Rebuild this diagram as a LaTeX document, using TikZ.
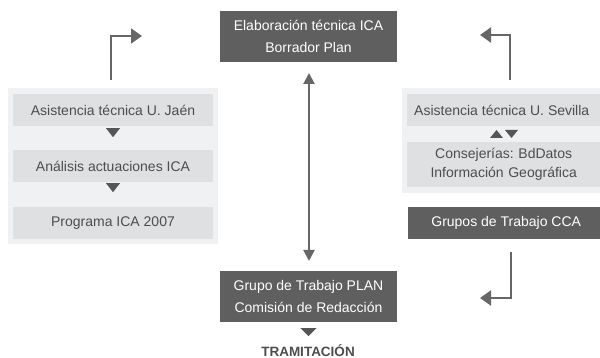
\documentclass[tikz,border=0pt]{standalone}
\usepackage{fontspec}
\setmainfont{Liberation Sans}
\usetikzlibrary{arrows.meta,calc}
\frenchspacing
\definecolor{darkbox}{HTML}{5F5F5F}
\definecolor{panel}{HTML}{F0F1F3}
\definecolor{inner}{HTML}{DFE0E2}
\definecolor{txt}{HTML}{4D4D4D}
\definecolor{arr}{HTML}{666666}
\definecolor{trifill}{HTML}{555555}
\tikzset{
  darkstep/.style={fill=darkbox, text=white, inner sep=0pt, align=center,
    font=\fontsize{14}{21.5}\selectfont},
  lightstep/.style={fill=inner, text=txt, inner sep=0pt, align=center,
    font=\fontsize{14}{19}\selectfont},
  panelbox/.style={fill=panel, inner sep=0pt},
  bent/.style={draw=arr, line width=2pt, -{Triangle[length=11pt,width=15pt]}},
  dbl/.style={draw=arr, line width=2pt, {Triangle[length=11pt,width=11pt]}-{Triangle[length=11pt,width=11pt]}},
  tri/.style={fill=trifill}
}
\begin{document}
\begin{tikzpicture}[x=1pt,y=-1pt]
\useasboundingbox (0,0) rectangle (600,358);
% panels
\node[panelbox, minimum width=210pt, minimum height=156pt, anchor=north west] (LP) at (8,88) {};
\node[panelbox, minimum width=198pt, minimum height=105pt, anchor=north west] (RP) at (402,88) {};
% top and bottom dark boxes
\node[darkstep, minimum width=177pt, minimum height=51pt] (T) at (308.5,36.5) {Elaboración técnica ICA\\Borrador Plan};
\node[darkstep, minimum width=177pt, minimum height=51pt] (B) at (308.5,296.5) {Grupo de Trabajo PLAN\\Comisión de Redacción};
% left boxes
\node[lightstep, minimum width=200pt, minimum height=32pt] (L1) at (113,110) {Asistencia técnica U. Jaén};
\node[lightstep, minimum width=200pt, minimum height=32pt] (L2) at (113,166) {Análisis actuaciones ICA};
\node[lightstep, minimum width=200pt, minimum height=32pt] (L3) at (113,223) {Programa ICA 2007};
% right boxes
\fill[inner] (407,94) rectangle (600,126);
\node[lightstep, anchor=west] (R1) at (414,110) {Asistencia técnica U. Sevilla};
\node[lightstep, minimum width=193pt, minimum height=45pt, anchor=north west, text width=193pt] (R2) at (407,142) {Consejerías: BdDatos\\Información Geográfica};
\node[darkstep, minimum width=192pt, minimum height=32pt, anchor=north west] (G) at (408,207) {\hspace*{4pt}Grupos de Trabajo CCA};
% small triangles
\fill[tri] ($(L1.south)+(-7,2)$) -- ++(14,0) -- ++(-7,9) -- cycle;
\fill[tri] ($(L2.south)+(-7,1)$) -- ++(14,0) -- ++(-7,9) -- cycle;
\fill[tri] (490,138) -- (503,138) -- (496.5,130) -- cycle;
\fill[tri] (505,130) -- (518,130) -- (511.5,138) -- cycle;
\fill[tri] ($(B.south)+(-8,6)$) -- ++(16,0) -- ++(-8,8) -- cycle;
\node[text=txt, font=\fontsize{13.5}{14}\selectfont\bfseries, inner sep=0pt] (TR) at (308,350.5) {TRAMITACIÓN};
% connectors
\coordinate (la) at (111,80);
\coordinate (lb) at (142,36);
\draw[bent] (la) |- (lb);
\coordinate (ra) at (510,80);
\coordinate (rb) at (480,35);
\draw[bent] (ra) |- (rb);
\coordinate (ga) at (511,252);
\coordinate (gb) at (480,298);
\draw[bent] (ga) |- (gb);
\draw[dbl, shorten <=11pt, shorten >=10pt] (309,62) -- (309,271);
\end{tikzpicture}
\end{document}
